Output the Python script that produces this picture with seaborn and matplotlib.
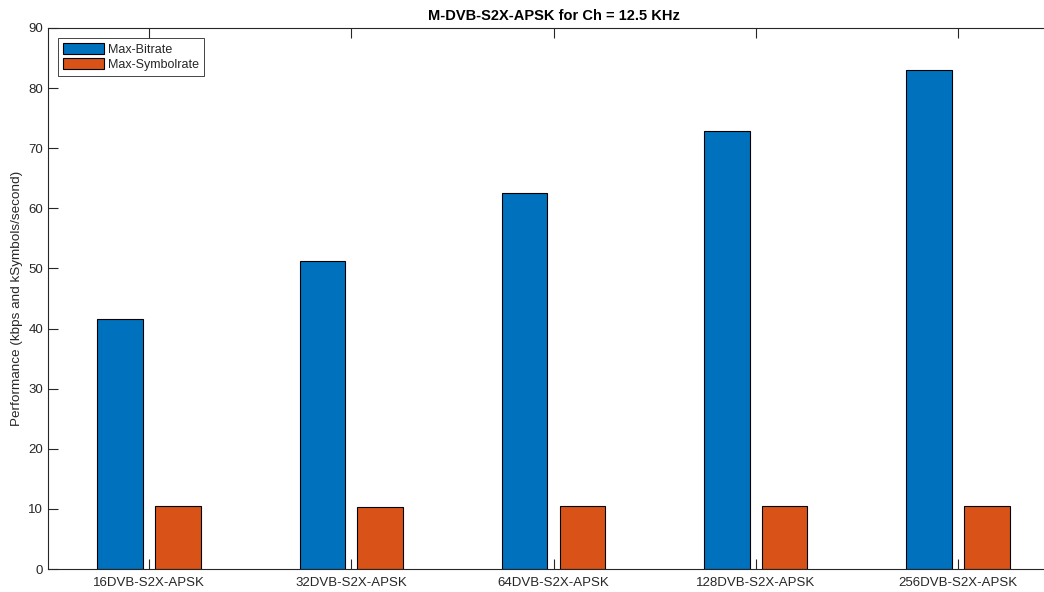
import matplotlib
matplotlib.use("Agg")
import matplotlib.pyplot as plt
import seaborn as sns
import pandas as pd

categories = ["16DVB-S2X-APSK", "32DVB-S2X-APSK", "64DVB-S2X-APSK",
              "128DVB-S2X-APSK", "256DVB-S2X-APSK"]
max_bitrate = [41.6, 51.3, 62.5, 72.8, 83.0]
max_symbolrate = [10.4, 10.3, 10.4, 10.4, 10.4]
series_names = ["Max-Bitrate", "Max-Symbolrate"]
yticks = [0, 10, 20, 30, 40, 50, 60, 70, 80, 90]

df = pd.DataFrame({
    "cat": categories * 2,
    "val": max_bitrate + max_symbolrate,
    "series": [series_names[0]] * len(categories) + [series_names[1]] * len(categories),
})

sns.set_theme(style="white")
plt.rcParams["font.family"] = ["Liberation Sans", "DejaVu Sans"]
axc = "#262626"

fig = plt.figure(figsize=(10.44, 5.92), dpi=100)
W, H = 1044, 592
ax = fig.add_axes([48 / W, (592 - 569) / H, 1011 / W, (569 - 28) / H])

sns.barplot(data=df, x="cat", y="val", hue="series", ax=ax,
            palette=["#0072BD", "#D95319"], width=0.572, gap=0.213,
            edgecolor="black", linewidth=0.8, saturation=1)

ax.set_xlim(-0.5, 4.5)
ax.set_ylim(0, 90)
ax.set_yticks(yticks)
ax.set_xlabel("")
ax.set_ylabel("Performance (kbps and kSymbols/second)", fontsize=9.7, color=axc)
ax.set_title("M-DVB-S2X-APSK for Ch = 12.5 KHz", fontsize=10.5, fontweight="bold",
             color="black", pad=6)

for s in ax.spines.values():
    s.set_visible(True)
    s.set_color(axc)
    s.set_linewidth(0.8)

ax.tick_params(axis="both", direction="in", length=7, width=0.8, color=axc,
               labelsize=9.5, labelcolor=axc, top=True, right=True,
               bottom=True, left=True)
ax.tick_params(axis="x", pad=6)

handles, labels = ax.get_legend_handles_labels()
leg = ax.legend(handles, labels, loc="upper left", fontsize=9, frameon=True,
                fancybox=False, edgecolor=axc, framealpha=1,
                handlelength=3.3, handleheight=1.0, borderaxespad=0.8,
                labelspacing=0.15, borderpad=0.4, handletextpad=0.3)
leg.get_frame().set_linewidth(0.6)

fig.savefig("out.png", dpi=100)
